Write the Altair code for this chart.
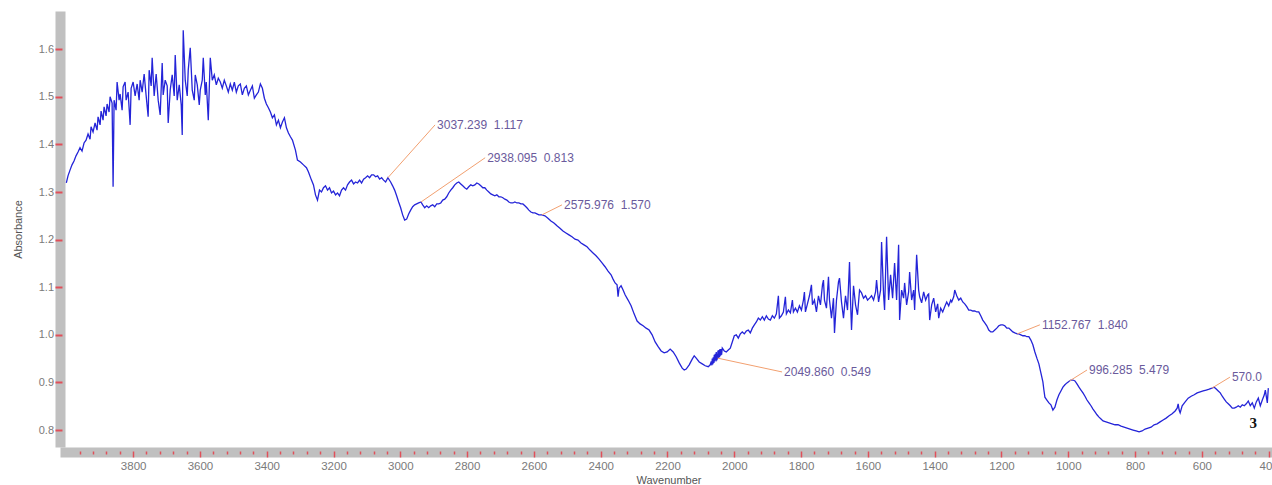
import altair as alt
import pandas as pd

# IR absorbance spectrum as (wavenumber / cm-1, absorbance) pairs, high to low wavenumber.
OH_BAND = [
    (4000, 1.319), (3995, 1.334), (3989, 1.346), (3983, 1.357), (3977, 1.365), (3971, 1.376),
    (3965, 1.384), (3959, 1.393), (3953, 1.386), (3947, 1.403), (3941, 1.409), (3935, 1.422),
    (3929, 1.411), (3926, 1.437), (3920, 1.426), (3914, 1.445), (3908, 1.430), (3905, 1.458),
    (3899, 1.441), (3896, 1.470), (3890, 1.451), (3887, 1.479), (3881, 1.460), (3878, 1.485),
    (3872, 1.468), (3869, 1.500), (3863, 1.487), (3860, 1.311), (3857, 1.493), (3851, 1.472),
    (3848, 1.531), (3842, 1.493), (3839, 1.506), (3833, 1.472), (3830, 1.521), (3824, 1.531),
    (3821, 1.493), (3815, 1.510), (3809, 1.441), (3806, 1.518), (3800, 1.531), (3794, 1.502),
    (3788, 1.527), (3782, 1.493), (3779, 1.535), (3773, 1.510), (3767, 1.548), (3761, 1.502),
    (3755, 1.458), (3752, 1.556), (3746, 1.523), (3743, 1.582), (3737, 1.502), (3731, 1.548),
    (3725, 1.493), (3719, 1.462), (3713, 1.571), (3710, 1.504), (3704, 1.535), (3698, 1.523),
    (3695, 1.445), (3689, 1.514), (3683, 1.546), (3677, 1.502), (3674, 1.588), (3668, 1.493),
    (3662, 1.525), (3656, 1.483), (3653, 1.420), (3650, 1.640), (3644, 1.535), (3638, 1.502),
    (3635, 1.556), (3629, 1.603), (3623, 1.514), (3617, 1.493), (3614, 1.546), (3608, 1.525),
    (3602, 1.483), (3599, 1.514), (3593, 1.535), (3590, 1.582), (3584, 1.504), (3581, 1.531),
    (3575, 1.451), (3572, 1.518), (3569, 1.582), (3563, 1.535), (3557, 1.546), (3551, 1.525),
]

OH_SHOULDER = [
    (3545, 1.539), (3539, 1.531), (3533, 1.518), (3527, 1.535), (3521, 1.523), (3515, 1.510),
    (3509, 1.527), (3503, 1.514), (3497, 1.531), (3491, 1.510), (3485, 1.523), (3479, 1.527),
    (3473, 1.504), (3467, 1.518), (3461, 1.523), (3455, 1.504), (3449, 1.514), (3443, 1.523),
    (3437, 1.497), (3431, 1.504), (3425, 1.510), (3419, 1.527), (3413, 1.518), (3407, 1.497),
    (3401, 1.485), (3395, 1.477), (3389, 1.468), (3383, 1.456), (3377, 1.462), (3371, 1.441),
    (3365, 1.451), (3359, 1.435), (3353, 1.447), (3347, 1.456), (3341, 1.435), (3335, 1.424),
    (3329, 1.416),
]

CH_REGION = [
    (3323, 1.409), (3314, 1.388), (3308, 1.367), (3299, 1.363), (3290, 1.357), (3281, 1.351),
    (3275, 1.342), (3266, 1.325), (3260, 1.315), (3254, 1.294), (3248, 1.283), (3242, 1.304),
    (3236, 1.300), (3230, 1.309), (3224, 1.313), (3218, 1.304), (3212, 1.309), (3206, 1.298),
    (3200, 1.302), (3194, 1.294), (3188, 1.298), (3182, 1.292), (3176, 1.304), (3170, 1.309),
    (3164, 1.304), (3158, 1.315), (3152, 1.321), (3146, 1.325), (3140, 1.317), (3134, 1.321),
    (3128, 1.319), (3122, 1.325), (3116, 1.319), (3110, 1.327), (3104, 1.330), (3098, 1.334),
    (3092, 1.330), (3086, 1.336), (3080, 1.336), (3074, 1.332), (3068, 1.334), (3062, 1.327),
    (3056, 1.330), (3050, 1.325), (3044, 1.321), (3037.239, 1.330), (3029, 1.321), (3023, 1.313),
    (3017, 1.304), (3011, 1.292), (3005, 1.279), (2999, 1.267), (2993, 1.252), (2987, 1.241),
    (2981, 1.243), (2975, 1.254), (2969, 1.262), (2963, 1.269), (2957, 1.273), (2951, 1.275),
    (2945, 1.277), (2938.095, 1.279), (2933, 1.273), (2927, 1.267), (2921, 1.271), (2915, 1.267),
    (2909, 1.271), (2903, 1.273), (2897, 1.269), (2891, 1.275), (2885, 1.275), (2879, 1.277),
    (2873, 1.283), (2867, 1.285), (2861, 1.290), (2855, 1.298), (2849, 1.304), (2843, 1.309),
    (2837, 1.315), (2831, 1.319), (2825, 1.321), (2819, 1.317), (2813, 1.313), (2807, 1.309),
    (2801, 1.306), (2795, 1.311), (2789, 1.315), (2783, 1.313), (2777, 1.315), (2771, 1.319),
    (2765, 1.317), (2759, 1.313), (2753, 1.309), (2747, 1.309), (2741, 1.304), (2735, 1.300),
    (2729, 1.296), (2723, 1.294), (2717, 1.292), (2711, 1.294), (2705, 1.290), (2699, 1.290),
    (2693, 1.288), (2687, 1.285), (2681, 1.283), (2675, 1.279), (2669, 1.277), (2663, 1.277),
    (2657, 1.279), (2651, 1.277), (2645, 1.277), (2639, 1.275), (2633, 1.275), (2627, 1.271),
    (2621, 1.267), (2615, 1.262), (2609, 1.258), (2603, 1.256), (2597, 1.256), (2591, 1.254),
    (2585, 1.252), (2575.976, 1.252), (2567, 1.250), (2558, 1.245), (2549, 1.239), (2540, 1.235),
    (2531, 1.229), (2522, 1.224),
]

TRIPLE_BOND_REGION = [
    (2513, 1.218), (2504, 1.214), (2495, 1.210), (2486, 1.206), (2477, 1.201), (2468, 1.199),
    (2459, 1.193), (2450, 1.189), (2441, 1.185), (2432, 1.178), (2423, 1.172), (2414, 1.166),
    (2405, 1.159), (2396, 1.151), (2387, 1.143), (2378, 1.134), (2369, 1.126), (2363, 1.117),
    (2357, 1.109), (2351, 1.105), (2348, 1.080), (2345, 1.098), (2339, 1.103), (2333, 1.094),
    (2327, 1.084), (2318, 1.073), (2309, 1.061), (2300, 1.044), (2291, 1.029), (2282, 1.023),
    (2273, 1.019), (2264, 1.014), (2255, 1.010), (2246, 1.000), (2237, 0.985), (2228, 0.975),
    (2219, 0.966), (2210, 0.962), (2201, 0.964), (2192, 0.970), (2183, 0.964), (2174, 0.954),
    (2165, 0.941), (2156, 0.930), (2150, 0.926), (2144, 0.928), (2135, 0.937), (2126, 0.949),
    (2120, 0.956), (2114, 0.951), (2105, 0.943), (2096, 0.939), (2087, 0.935), (2078, 0.933),
    (2072, 0.937), (2069, 0.944), (2067, 0.936), (2066, 0.950), (2064, 0.938), (2063, 0.953),
    (2061, 0.941), (2060, 0.958), (2058, 0.944), (2057, 0.960), (2055, 0.946), (2054, 0.964),
    (2052, 0.948), (2049.860, 0.951), (2049, 0.967), (2047, 0.951), (2046, 0.968), (2044, 0.953),
    (2043, 0.970), (2041, 0.956), (2040, 0.970), (2038, 0.958), (2036, 0.972),
    (2030, 0.966), (2024, 0.964), (2018, 0.968), (2012, 0.972), (2006, 0.985), (2000, 0.998),
    (1994, 1.000), (1988, 0.993), (1982, 1.002), (1976, 1.006), (1970, 1.002), (1964, 1.008),
    (1958, 1.010), (1952, 1.004),
]

DOUBLE_BOND_REGION = [
    (1946, 1.014), (1940, 1.021), (1934, 1.027), (1928, 1.035), (1922, 1.031), (1916, 1.038),
    (1910, 1.031), (1904, 1.040), (1898, 1.033), (1892, 1.031), (1886, 1.040), (1880, 1.035),
    (1874, 1.044), (1868, 1.082), (1865, 1.035), (1859, 1.040), (1853, 1.048), (1847, 1.080),
    (1844, 1.044), (1838, 1.052), (1832, 1.046), (1826, 1.073), (1823, 1.048), (1817, 1.056),
    (1811, 1.048), (1805, 1.061), (1799, 1.052), (1793, 1.073), (1790, 1.090), (1787, 1.048),
    (1781, 1.065), (1775, 1.082), (1769, 1.105), (1766, 1.063), (1760, 1.073), (1754, 1.048),
    (1748, 1.082), (1742, 1.063), (1736, 1.105), (1733, 1.115), (1730, 1.073), (1724, 1.056),
    (1718, 1.122), (1715, 1.073), (1709, 1.035), (1703, 1.077), (1700, 1.004), (1694, 1.073),
    (1688, 1.111), (1685, 1.119), (1679, 1.069), (1673, 1.035), (1667, 1.082), (1661, 1.052),
    (1655, 1.153), (1652, 1.073), (1649, 1.010), (1643, 1.103), (1637, 1.063), (1631, 1.042),
    (1625, 1.094), (1619, 1.088), (1613, 1.077), (1607, 1.082), (1601, 1.073), (1595, 1.077),
    (1589, 1.082), (1583, 1.073), (1577, 1.090), (1574, 1.115), (1568, 1.069), (1562, 1.094),
    (1559, 1.195), (1553, 1.084), (1550, 1.052), (1544, 1.206), (1538, 1.073), (1532, 1.126),
    (1526, 1.077), (1520, 1.151), (1514, 1.073), (1508, 1.189), (1505, 1.031), (1499, 1.094),
    (1493, 1.077), (1490, 1.109), (1484, 1.063), (1478, 1.090), (1475, 1.132), (1469, 1.073),
    (1463, 1.094), (1460, 1.052), (1454, 1.168), (1448, 1.094), (1445, 1.080), (1439, 1.067),
    (1433, 1.090), (1427, 1.073), (1421, 1.084), (1418, 1.086), (1415, 1.031), (1409, 1.063),
    (1403, 1.077), (1397, 1.048), (1391, 1.065), (1388, 1.035), (1382, 1.056), (1376, 1.048),
    (1370, 1.059), (1364, 1.069), (1358, 1.061), (1352, 1.073), (1349, 1.069), (1343, 1.080),
    (1340, 1.094), (1334, 1.082), (1328, 1.073), (1322, 1.077), (1316, 1.069), (1310, 1.065),
    (1304, 1.059), (1298, 1.052), (1292, 1.052), (1286, 1.050), (1280, 1.050), (1274, 1.048),
    (1268, 1.048), (1262, 1.040), (1256, 1.031), (1250, 1.025), (1244, 1.019), (1238, 1.010),
    (1232, 1.006),
]

FINGERPRINT_REGION = [
    (1226, 1.006), (1220, 1.010), (1214, 1.014), (1208, 1.019), (1202, 1.021), (1196, 1.021),
    (1190, 1.019), (1184, 1.014), (1178, 1.014), (1172, 1.010), (1166, 1.006), (1160, 1.004),
    (1152.767, 1.002), (1148, 1.002), (1142, 1.000), (1136, 0.998), (1130, 0.998), (1124, 0.996),
    (1118, 0.996), (1112, 0.989), (1106, 0.979), (1100, 0.964), (1094, 0.951), (1088, 0.939),
    (1082, 0.920), (1076, 0.901), (1073, 0.884), (1070, 0.869), (1064, 0.863), (1058, 0.857),
    (1052, 0.853), (1046, 0.842), (1040, 0.848), (1034, 0.863), (1028, 0.874), (1022, 0.882),
    (1016, 0.890), (1010, 0.895), (1004, 0.899), (996.285, 0.903), (992, 0.905), (986, 0.905),
    (980, 0.903), (974, 0.897), (968, 0.890), (962, 0.884), (956, 0.878), (950, 0.871),
    (944, 0.863), (938, 0.857), (932, 0.851), (926, 0.844), (920, 0.838), (914, 0.832),
    (908, 0.827), (902, 0.823), (896, 0.819), (887, 0.817), (878, 0.815), (869, 0.813),
    (860, 0.811), (851, 0.811), (842, 0.808), (833, 0.806), (824, 0.804), (815, 0.802),
    (806, 0.800), (797, 0.798), (788, 0.796), (779, 0.798), (770, 0.802), (761, 0.804),
    (752, 0.806), (743, 0.811), (734, 0.813), (725, 0.817), (716, 0.821), (707, 0.825),
    (698, 0.830), (689, 0.834), (680, 0.840), (674, 0.846), (671, 0.855), (668, 0.842),
    (665, 0.836), (659, 0.851), (650, 0.859), (641, 0.867), (632, 0.871), (623, 0.874),
    (614, 0.878), (605, 0.880), (596, 0.882), (587, 0.884), (578, 0.886), (570.0, 0.888),
    (563, 0.890), (557, 0.886), (551, 0.882), (545, 0.878), (539, 0.871), (533, 0.865),
    (527, 0.859), (521, 0.855), (515, 0.851), (509, 0.846), (503, 0.846), (497, 0.848),
    (491, 0.851), (485, 0.848), (479, 0.853), (473, 0.851), (467, 0.855), (461, 0.861),
    (455, 0.851), (449, 0.857), (443, 0.846), (437, 0.859), (431, 0.867), (425, 0.851),
    (419, 0.863), (413, 0.874), (410, 0.884), (404, 0.857), (401, 0.888),
]

# Peak picks: wavenumber, printed label (two non-breaking spaces between fields), label anchor.
GAP = "\u00a0\u00a0"
PEAK_WN = [3037.239, 2938.095, 2575.976, 2049.860, 1152.767, 996.285, 570.0]
PEAK_TEXT = [
    "3037.239" + GAP + "1.117", "2938.095" + GAP + "0.813", "2575.976" + GAP + "1.570",
    "2049.860" + GAP + "0.549", "1152.767" + GAP + "1.840", "996.285" + GAP + "5.479", "570.0",
]
LABEL_WN = [2896, 2746, 2516, 1857, 1085, 944, 516]
LABEL_ABS = [1.441, 1.372, 1.273, 0.922, 1.021, 0.926, 0.911]

SAMPLE_TAG = ["3"]
SAMPLE_TAG_WN = [446]
SAMPLE_TAG_ABS = [0.815]

X_TICKS = list(range(400, 3961, 40))
Y_TICKS = [0.8, 0.9, 1.0, 1.1, 1.2, 1.3, 1.4, 1.5, 1.6]

spectrum = pd.DataFrame(
    OH_BAND + OH_SHOULDER + CH_REGION + TRIPLE_BOND_REGION + DOUBLE_BOND_REGION + FINGERPRINT_REGION,
    columns=["wavenumber", "absorbance"],
)
curve_at = dict(zip(spectrum["wavenumber"], spectrum["absorbance"]))

peaks = pd.DataFrame({
    "wavenumber": PEAK_WN,
    "absorbance": [curve_at[w] for w in PEAK_WN],
    "label_wn": LABEL_WN,
    "label_abs": LABEL_ABS,
    "text": PEAK_TEXT,
})
tag = pd.DataFrame({"wavenumber": SAMPLE_TAG_WN, "absorbance": SAMPLE_TAG_ABS, "text": SAMPLE_TAG})

x_scale = alt.Scale(domain=[4004, 390], nice=False, zero=False)
y_scale = alt.Scale(domain=[0.7643, 1.6803], nice=False, zero=False)

FONT = "Liberation Sans"
BAND = "#c0c0c0"
TICK = "#e0505a"
LABEL_GREY = "#7a7a7a"

# Grey frame bands along the left and bottom edges
band_x = alt.Axis(orient="bottom", offset=5, domainWidth=10, domainColor=BAND, domainCap="square",
                  ticks=False, labels=False, title=None, grid=False)
band_y = alt.Axis(orient="left", offset=5, domainWidth=10, domainColor=BAND,
                  ticks=False, labels=False, title=None, grid=False)

# Red ticks, labels and titles drawn on top of the bands
tick_x = alt.Axis(
    orient="bottom", offset=4, domain=False, grid=False, zindex=1,
    values=X_TICKS, format="d",
    labelExpr="datum.value % 200 === 0 ? datum.label : ''",
    tickColor=TICK, tickWidth=1.5,
    tickSize={"condition": {"test": "datum.value % 200 === 0", "value": 6}, "value": 3},
    labelFont=FONT, labelFontSize=11.5, labelColor=LABEL_GREY, labelPadding=3,
    labelFlush=False, labelOverlap=False,
    title="Wavenumber", titleFont=FONT, titleFontSize=11, titleFontWeight="normal",
    titleColor="#555555", titlePadding=3,
)
tick_y = alt.Axis(
    orient="left", offset=3, domain=False, grid=False, zindex=1,
    values=Y_TICKS, format=".1f",
    tickColor=TICK, tickWidth=2, tickSize=7,
    labelFont=FONT, labelFontSize=11, labelColor=LABEL_GREY, labelPadding=1.5,
    labelFlush=False,
    title="Absorbance", titleFont=FONT, titleFontSize=11, titleFontWeight="normal",
    titleColor="#555555", titlePadding=15,
)

line = alt.Chart(spectrum).mark_line(color="#2424d8", strokeWidth=1.3, clip=True).encode(
    x=alt.X("wavenumber:Q", scale=x_scale, axis=band_x),
    y=alt.Y("absorbance:Q", scale=y_scale, axis=band_y),
)

leaders = alt.Chart(peaks).mark_rule(color="#f2a070", strokeWidth=1).encode(
    x=alt.X("wavenumber:Q", scale=x_scale, axis=tick_x),
    y=alt.Y("absorbance:Q", scale=y_scale, axis=tick_y),
    x2="label_wn:Q",
    y2="label_abs:Q",
)

peak_labels = alt.Chart(peaks).mark_text(
    align="left", baseline="middle", dx=2, font=FONT, fontSize=12, color="#6a5a9c"
).encode(
    x=alt.X("label_wn:Q", scale=x_scale, axis=None),
    y=alt.Y("label_abs:Q", scale=y_scale, axis=None),
    text="text:N",
)

tag_text = alt.Chart(tag).mark_text(
    align="center", baseline="middle", font="Liberation Serif", fontWeight="bold",
    fontSize=15, color="#111111"
).encode(
    x=alt.X("wavenumber:Q", scale=x_scale, axis=None),
    y=alt.Y("absorbance:Q", scale=y_scale, axis=None),
    text="text:N",
)

chart = (
    alt.layer(line, leaders, peak_labels, tag_text)
    .resolve_axis(x="independent", y="independent")
    .properties(
        width=1207, height=436,
        autosize=alt.AutoSizeParams(type="none"),
        padding={"left": 65, "top": 11, "right": 0, "bottom": 38},
        background="white",
    )
    .configure_view(stroke=None)
)

chart.save("out.html", embed_options={"renderer": "svg", "actions": False})
